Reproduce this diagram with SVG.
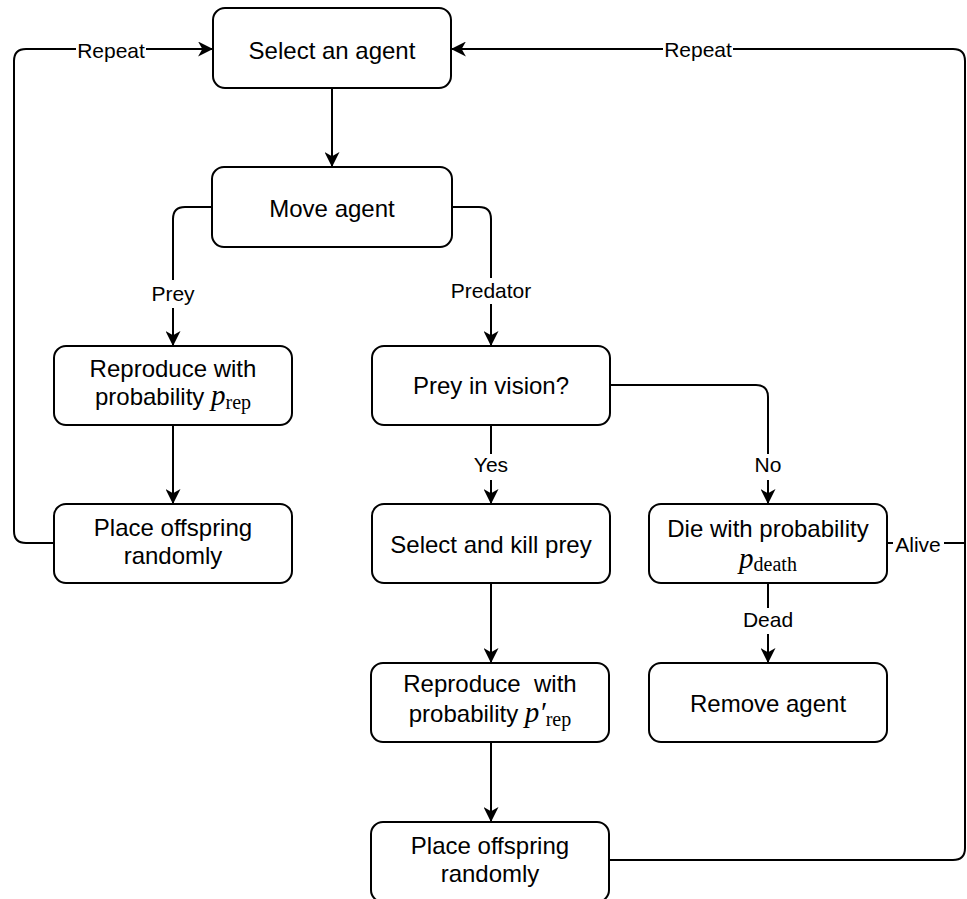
<svg xmlns="http://www.w3.org/2000/svg" width="967" height="899" viewBox="0 0 967 899">
<style>
.box{fill:#fff;stroke:#000;stroke-width:2}
.t{font-family:"Liberation Sans",Arial,sans-serif;font-size:24px;fill:#000;text-anchor:middle;white-space:pre}
.l{font-family:"Liberation Sans",Arial,sans-serif;font-size:21px;fill:#000;text-anchor:middle}
.m{font-family:"Liberation Serif","DejaVu Serif",serif;font-style:italic;font-size:29px}
.s{font-family:"Liberation Serif","DejaVu Serif",serif;font-style:normal;font-size:20px}
.c{fill:none;stroke:#000;stroke-width:2}
.bg{fill:#fff}
</style>
<defs>
<marker id="a" viewBox="0 0 14 14" refX="13" refY="7" markerWidth="15" markerHeight="15" markerUnits="userSpaceOnUse" orient="auto">
<path d="M0,0 L14,7 L0,14 L4,7 Z" fill="#000"/>
</marker>
</defs>
<g id="connectors">
<path class="c" d="M332,88 V166" marker-end="url(#a)"/>
<path class="c" d="M212,207 H185 Q173,207 173,219 V345" marker-end="url(#a)"/>
<path class="c" d="M452,207 H479 Q491,207 491,219 V345" marker-end="url(#a)"/>
<path class="c" d="M173,425 V503" marker-end="url(#a)"/>
<path class="c" d="M491,425 V503" marker-end="url(#a)"/>
<path class="c" d="M610,385 H756 Q768,385 768,397 V503" marker-end="url(#a)"/>
<path class="c" d="M768,583 V662" marker-end="url(#a)"/>
<path class="c" d="M491,583 V662" marker-end="url(#a)"/>
<path class="c" d="M491,742 V821" marker-end="url(#a)"/>
<path class="c" d="M54,543 H26 Q14,543 14,531 V61 Q14,49 26,49 H212" marker-end="url(#a)"/>
<path class="c" d="M609,860 H953 Q965,860 965,848 V61 Q965,49 953,49 H452" marker-end="url(#a)"/>
<path class="c" d="M887,543 H965"/>
<rect class="bg" x="76" y="37" width="70" height="26"/>
<text class="l" x="111" y="58">Repeat</text>
<rect class="bg" x="663" y="37" width="70" height="26"/>
<text class="l" x="698" y="57">Repeat</text>
<rect class="bg" x="148" y="280" width="50" height="28"/>
<text class="l" x="173" y="301">Prey</text>
<rect class="bg" x="445" y="278" width="92" height="26"/>
<text class="l" x="491" y="298">Predator</text>
<rect class="bg" x="472" y="454" width="38" height="26"/>
<text class="l" x="491" y="472">Yes</text>
<rect class="bg" x="753" y="454" width="30" height="26"/>
<text class="l" x="768" y="472">No</text>
<rect class="bg" x="743" y="608" width="50" height="26"/>
<text class="l" x="768" y="627">Dead</text>
<rect class="bg" x="893" y="533" width="51" height="22"/>
<text class="l" x="918" y="552">Alive</text>
</g>
<g id="n1"><rect class="box" x="213" y="8" width="238" height="80" rx="12"/><text class="t" x="332" y="59">Select an agent</text></g>
<g id="n2"><rect class="box" x="212" y="167" width="240" height="80" rx="12"/><text class="t" x="332" y="217">Move agent</text></g>
<g id="n3"><rect class="box" x="54" y="346" width="238" height="79" rx="12"/><text class="t" x="173" y="377">Reproduce with</text><text class="t" x="173" y="405">probability <tspan class="m">p</tspan><tspan class="s" dy="4">rep</tspan></text></g>
<g id="n4"><rect class="box" x="54" y="504" width="238" height="79" rx="12"/><text class="t" x="173" y="536">Place offspring</text><text class="t" x="173" y="564">randomly</text></g>
<g id="n5"><rect class="box" x="372" y="346" width="238" height="79" rx="12"/><text class="t" x="491" y="394">Prey in vision?</text></g>
<g id="n6"><rect class="box" x="372" y="504" width="238" height="79" rx="12"/><text class="t" x="491" y="553">Select and kill prey</text></g>
<g id="n7"><rect class="box" x="649" y="504" width="238" height="79" rx="12"/><text class="t" x="768" y="537">Die with probability</text><text class="t" x="768" y="568"><tspan class="m">p</tspan><tspan class="s" dy="3">death</tspan></text></g>
<g id="n8"><rect class="box" x="649" y="663" width="238" height="79" rx="12"/><text class="t" x="768" y="712">Remove agent</text></g>
<g id="n9"><rect class="box" x="371" y="663" width="238" height="79" rx="12"/><text class="t" x="490" y="692">Reproduce  with</text><text class="t" x="490" y="722">probability <tspan class="m">p′</tspan><tspan class="s" dy="4">rep</tspan></text></g>
<g id="n10"><rect class="box" x="371" y="822" width="238" height="80" rx="12"/><text class="t" x="490" y="854">Place offspring</text><text class="t" x="490" y="882">randomly</text></g>
</svg>
